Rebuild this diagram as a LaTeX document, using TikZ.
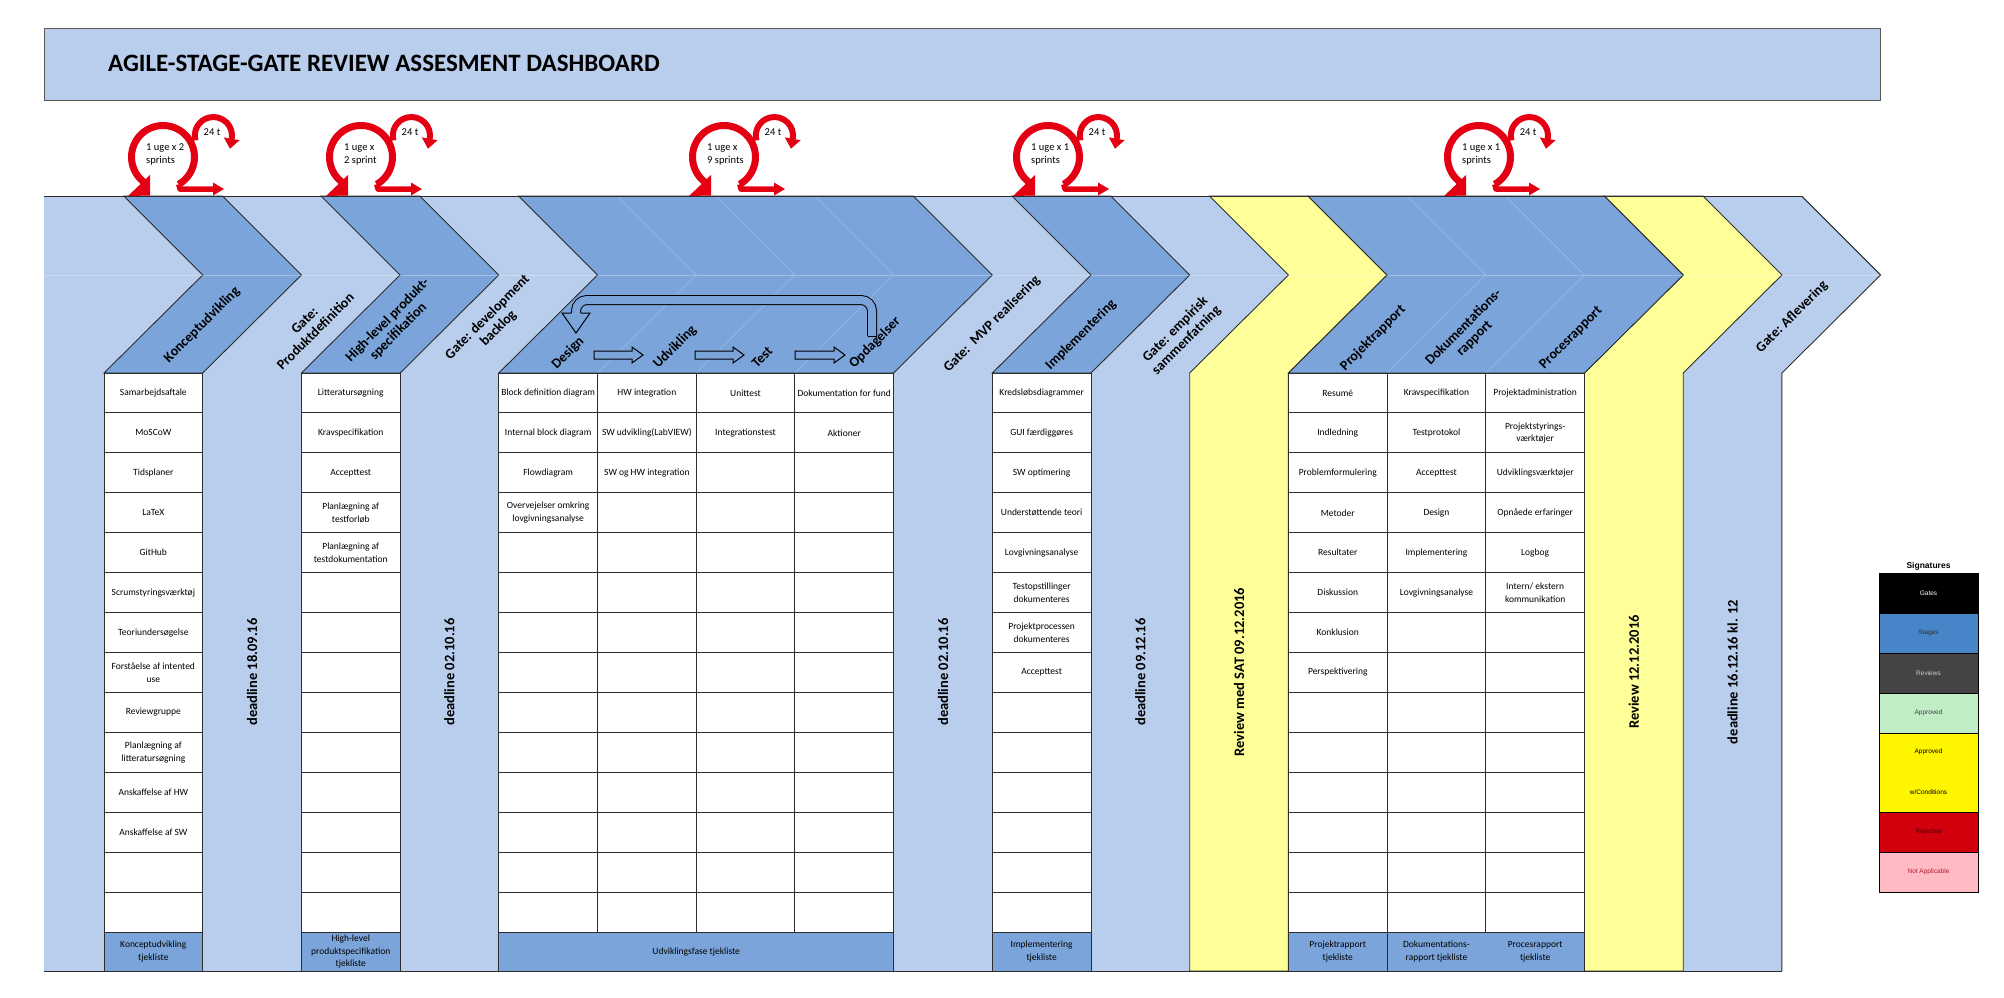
\documentclass[tikz,border=0pt]{standalone}
\usepackage{fontspec}
\setmainfont{Carlito}
\newfontfamily\legendfont{Liberation Sans}
\definecolor{gateblue}{RGB}{185,206,236}
\definecolor{stageblue}{RGB}{123,165,218}
\definecolor{revyellow}{RGB}{255,255,153}
\definecolor{iconred}{RGB}{228,0,18}
\definecolor{tline}{RGB}{45,45,45}
\definecolor{lgstage}{RGB}{72,132,200}
\definecolor{lgreview}{RGB}{68,68,68}
\definecolor{lgapproved}{RGB}{192,236,198}
\definecolor{lgcond}{RGB}{255,245,0}
\definecolor{lgreject}{RGB}{210,0,12}
\definecolor{lgna}{RGB}{255,186,196}
\definecolor{natext}{RGB}{180,30,45}
\tikzset{
  chevline/.style={draw=tline, line width=0.9pt},
  cell/.style={draw=tline, line width=0.9pt, fill=white},
  footcell/.style={draw=tline, line width=0.9pt, fill=stageblue},
  celltext/.style={font=\fontsize{9.5}{12.5}\selectfont, align=center, inner sep=0pt},
  chevlabel/.style={font=\bfseries\fontsize{14}{15.5}\selectfont, align=center, rotate=45, inner sep=0pt},
  deadlinetext/.style={font=\bfseries\fontsize{14.5}{16}\selectfont, rotate=90, inner sep=0pt},
  icontext/.style={font=\fontsize{10.5}{13}\selectfont, inner sep=0pt},
  faint/.style={draw=white, draw opacity=0.18, line width=0.8pt},
  faintmid/.style={draw=white, draw opacity=0.28, line width=0.8pt},
  blockarrow/.style={draw=black, line width=1pt, fill=stageblue},
  legtext/.style={font=\legendfont\fontsize{6.5}{8}\selectfont, inner sep=0pt},
  legbox/.style={draw=black, line width=0.8pt}
}
% chevron: left, right, bottom y, fill
\newcommand{\chevron}[4]{\draw[chevline, fill=#4] (#1,#3) -- (#1,373) -- ({#1+98.7},275) -- ({#1+19.7},196) -- ({#2+19.7},196) -- ({#2+98.7},275) -- (#2,373) -- (#2,#3) -- cycle;}
\newcommand{\subline}[1]{\draw[faint] ({#1+19.7},196) -- ({#1+98.7},275) -- (#1,373);}
\newcommand{\tablegrid}[2]{\foreach \c in {1,...,#2}{\foreach \r in {0,...,13}{\draw[cell] ({#1+98.7*(\c-1)},{373+39.93*\r}) rectangle ++(98.7,39.93);}}}
\newcommand{\coltexts}[3]{\foreach \t [count=\r from 0] in {#3}{\node[celltext] (#1\r) at ({#2+49.35},{392.965+39.93*\r}) {\t};}}
\newcommand{\scrum}[4]{%
\begin{scope}[shift={(#2,0)}]
\draw[iconred, line width=7pt] ({31.5*cos(126)},{157+31.5*sin(126)}) arc[start angle=126, end angle=420, radius=31.5];
\fill[iconred] (-35,196) -- (-13,175) -- (-13,195.5) -- cycle;
\draw[iconred, line width=5.5pt, line join=round] ({31.5*cos(60)},{157+31.5*sin(60)}) -- (17,189) -- (51,189);
\fill[iconred] (50,182.5) -- (61,189) -- (50,195.5) -- cycle;
\draw[iconred, line width=6pt] ({50.4+18.6*cos(165)},{135.6+18.6*sin(165)}) arc[start angle=165, end angle=370, radius=18.6];
\fill[iconred] (76.6,140.2) -- (67,148.7) -- (60.8,137.4) -- cycle;
\node[icontext, anchor=west, align=left] (#1-txt) at (-17,154.5) {#3\\#4};
\node[icontext] (#1-day) at (49,132) {24 t};
\end{scope}}
\newcommand{\blockarr}[2]{\draw[blockarrow] (#1,351) -- ({#2-11},351) -- ({#2-11},347) -- (#2,355) -- ({#2-11},363) -- ({#2-11},359) -- (#1,359) -- cycle;}

\begin{document}
\begin{tikzpicture}[x=1pt,y=-1pt]
\useasboundingbox (0,0) rectangle (2004,997);
\fill[white] (0,0) rectangle (2004,997);

% title bar
\draw[draw=black!65, line width=0.8pt, fill=gateblue] (44,28) rectangle (1880,100);
\node[anchor=west, font=\bfseries\fontsize{25}{28}\selectfont, inner sep=0pt] (title) at (108,63) {AGILE-STAGE-GATE REVIEW ASSESMENT DASHBOARD};

% background band (gates)
\fill[gateblue] (44,196) -- (1801.6,196) -- (1880.6,275) -- (1781.9,373) -- (1781.9,971) -- (44,971) -- cycle;

% review (yellow) chevrons
\chevron{1189.7}{1288.4}{971}{revyellow}
\chevron{1584.5}{1683.2}{971}{revyellow}

% stage chevrons
\chevron{104}{202.7}{373}{stageblue}
\chevron{301.4}{400.1}{373}{stageblue}
\chevron{498.8}{893.6}{373}{stageblue}
\chevron{992.3}{1091}{373}{stageblue}
\chevron{1288.4}{1584.5}{373}{stageblue}

% final gate outline
\draw[chevline] (1801.6,196) -- (1880.6,275) -- (1781.9,373) -- (1781.9,971);

% faint lines
\draw[faintmid] (44,275) -- (1880.6,275);
\subline{597.5}\subline{696.2}\subline{794.9}
\subline{1387.1}\subline{1485.8}

% band borders
\draw[chevline] (44,196) -- (1801.6,196);
\draw[chevline] (44,971) -- (1781.9,971);

% tables
\tablegrid{104}{1}
\tablegrid{301.4}{1}
\tablegrid{498.8}{4}
\tablegrid{992.3}{1}
\tablegrid{1288.4}{3}

% footers
\draw[footcell] (104,932) rectangle (202.7,971);
\draw[footcell] (301.4,932) rectangle (400.1,971);
\draw[footcell] (498.8,932) rectangle (893.6,971);
\draw[footcell] (992.3,932) rectangle (1091,971);
\draw[footcell] (1288.4,932) rectangle (1387.1,971);
\draw[footcell] (1387.1,932) rectangle (1584.5,971);

\node[celltext] (f1) at (153.35,951.5) {Konceptudvikling\\tjekliste};
\node[celltext] (f2) at (350.75,951.5) {High-level\\produktspecifikation\\tjekliste};
\node[celltext] (f3) at (696.2,951.5) {Udviklingsfase tjekliste};
\node[celltext] (f4) at (1041.65,951.5) {Implementering\\tjekliste};
\node[celltext] (f5) at (1337.75,951.5) {Projektrapport\\tjekliste};
\node[celltext] (f6) at (1436.45,951.5) {Dokumentations-\\rapport tjekliste};
\node[celltext] (f7) at (1535.15,951.5) {Procesrapport\\tjekliste};

% table texts
\coltexts{ka}{104}{Samarbejdsaftale,MoSCoW,Tidsplaner,LaTeX,GitHub,Scrumstyringsværktøj,Teoriundersøgelse,{Forståelse af intented\\use},Reviewgruppe,{Planlægning af\\litteratursøgning},Anskaffelse af HW,Anskaffelse af SW}
\coltexts{hl}{301.4}{Litteratursøgning,Kravspecifikation,Accepttest,{Planlægning af\\testforløb},{Planlægning af\\testdokumentation}}
\coltexts{ua}{498.8}{Block definition diagram,Internal block diagram,Flowdiagram,{Overvejelser omkring\\lovgivningsanalyse}}
\coltexts{ub}{597.5}{HW integration,SW udvikling(LabVIEW),SW og HW integration}
\coltexts{uc}{696.2}{Unittest,Integrationstest}
\coltexts{ud}{794.9}{Dokumentation for fund,Aktioner}
\coltexts{im}{992.3}{Kredsløbsdiagrammer,GUI færdiggøres,SW optimering,Understøttende teori,Lovgivningsanalyse,{Testopstillinger\\dokumenteres},{Projektprocessen\\dokumenteres},Accepttest}
\coltexts{ra}{1288.4}{Resumé,Indledning,Problemformulering,Metoder,Resultater,Diskussion,Konklusion,Perspektivering}
\coltexts{rb}{1387.1}{Kravspecifikation,Testprotokol,Accepttest,Design,Implementering,Lovgivningsanalyse}
\coltexts{rc}{1485.8}{Projektadministration,{Projektstyrings-\\værktøjer},Udviklingsværktøjer,Opnåede erfaringer,Logbog,{Intern/ ekstern\\kommunikation}}

% deadline texts
\node[deadlinetext] (d1) at (252.05,672) {deadline 18.09.16};
\node[deadlinetext] (d2) at (449.45,672) {deadline 02.10.16};
\node[deadlinetext] (d3) at (943,672) {deadline 02.10.16};
\node[deadlinetext] (d4) at (1140.35,672) {deadline 09.12.16};
\node[deadlinetext] (d5) at (1239.05,672) {Review med SAT 09.12.2016};
\node[deadlinetext] (d6) at (1633.85,672) {Review 12.12.2016};
\node[deadlinetext] (d7) at (1732.55,672) {deadline 16.12.16 kl. 12};

% chevron labels
\node[chevlabel] (l1) at (202,325) {Konceptudvikling};
\node[chevlabel] (l2) at (310,326) {Gate:\\Produktdefinition};
\node[chevlabel] (l3) at (393,326) {High-level produkt-\\specifikation};
\node[chevlabel] (l4) at (493,323) {Gate: development\\backlog};
\node[chevlabel] (l5) at (992,324) {Gate:\ \ MVP realisering};
\node[chevlabel] (l6) at (1081,335) {Implementering};
\node[chevlabel] (l7) at (1181,335) {Gate: empirisk\\sammenfatning};
\node[chevlabel] (l8) at (1373,338) {Projektrapport};
\node[chevlabel] (l9) at (1469,333) {Dokumentations-\\rapport};
\node[chevlabel] (l10) at (1571,338) {Procesrapport};
\node[chevlabel] (l11) at (1792,317) {Gate: Aflevering};

% development cycle
\node[chevlabel] (dv1) at (568,353) {Design};
\node[chevlabel] (dv2) at (675,347) {Udvikling};
\node[chevlabel] (dv3) at (762,357) {Test};
\node[chevlabel] (dv4) at (875,343) {Opdagelser};
\blockarr{594}{643}
\blockarr{695}{744}
\blockarr{795}{845}
\draw[draw=black, line width=1pt, double=stageblue, double distance=8pt, rounded corners=11pt] (872,336) -- (872,300) -- (576,300) -- (576,313.5);
\draw[black, line width=1pt] (867.5,336) -- (876.5,336);
\fill[stageblue] (562,313) -- (576,333) -- (590,313) -- cycle;
\draw[black, line width=1pt, line join=miter] (571.5,313) -- (562,313) -- (576,333) -- (590,313) -- (580.5,313);

% scrum icons
\scrum{s1}{163}{1 uge x 2}{sprints}
\scrum{s2}{361}{1 uge x}{2 sprint}
\scrum{s3}{724}{1 uge x}{9 sprints}
\scrum{s4}{1048}{1 uge x 1}{sprints}
\scrum{s5}{1479}{1 uge x 1}{sprints}

% legend
\node[font=\legendfont\bfseries\fontsize{8.5}{10}\selectfont, inner sep=0pt] (sig) at (1928.5,566) {Signatures};
\draw[legbox, fill=black] (1879,573) rectangle (1978,613);
\draw[legbox, fill=lgstage] (1879,613) rectangle (1978,653);
\draw[legbox, fill=lgreview] (1879,653) rectangle (1978,693);
\draw[legbox, fill=lgapproved] (1879,693) rectangle (1978,733);
\draw[legbox, fill=lgcond] (1879,733) rectangle (1978,812);
\draw[legbox, fill=lgreject] (1879,812) rectangle (1978,852);
\draw[legbox, fill=lgna] (1879,852) rectangle (1978,892);
\node[legtext, text=white] (lg1) at (1928.5,593) {Gates};
\node[legtext, text=black!80] (lg2) at (1928.5,633) {Stages};
\node[legtext, text=black!20] (lg3) at (1928.5,673) {Reviews};
\node[legtext, text=black!75] (lg4) at (1928.5,713) {Approved};
\node[legtext, text=black] (lg5) at (1928.5,752) {Approved};
\node[legtext, text=black] (lg6) at (1928.5,792) {w/Conditions};
\node[legtext, text=black!70!red] (lg7) at (1928.5,832) {Rejected};
\node[legtext, text=natext] (lg8) at (1928.5,872) {Not Applicable};
\end{tikzpicture}
\end{document}
